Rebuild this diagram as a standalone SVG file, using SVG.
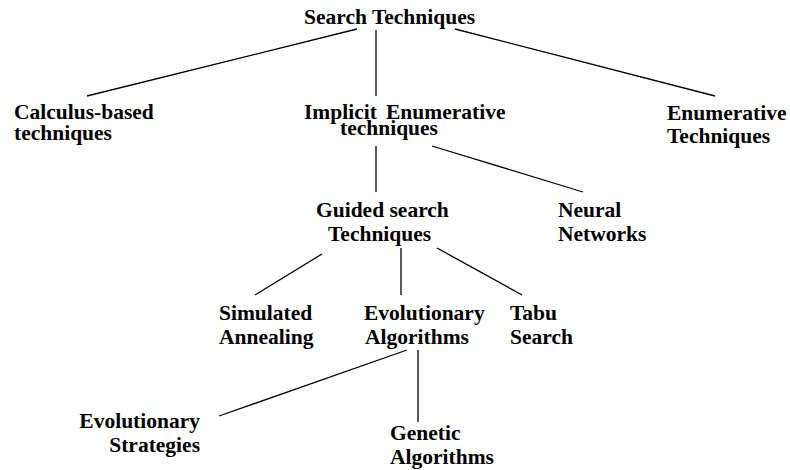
<svg xmlns="http://www.w3.org/2000/svg" width="790" height="470" viewBox="0 0 790 470">
  <style>
    text { font-family: "Liberation Serif", "Times New Roman", serif; font-weight: bold; font-size: 21.5px; fill: #000; }
    .edge { stroke: #000; stroke-width: 1.3; fill: none; }
  </style>
  <rect width="790" height="470" fill="#fff"/>

  <!-- tree edges -->
  <g id="edges">
    <line class="edge" x1="357" y1="29" x2="87" y2="96"/>
    <line class="edge" x1="376" y1="30" x2="376" y2="96"/>
    <line class="edge" x1="455" y1="29" x2="715" y2="96"/>
    <line class="edge" x1="376" y1="146" x2="376" y2="192"/>
    <line class="edge" x1="432" y1="146" x2="583" y2="192"/>
    <line class="edge" x1="322" y1="254" x2="255" y2="295"/>
    <line class="edge" x1="401" y1="248" x2="401" y2="295"/>
    <line class="edge" x1="437" y1="248" x2="522" y2="295"/>
    <line class="edge" x1="407" y1="350" x2="219" y2="416"/>
    <line class="edge" x1="418" y1="350" x2="418" y2="422"/>
  </g>

  <g id="search-techniques">
    <text x="304" y="24">Search Techniques</text>
  </g>
  <g id="calculus-based">
    <text x="14" y="119">Calculus-based</text>
    <text x="14" y="140">techniques</text>
  </g>
  <g id="implicit-enumerative">
    <text x="304" y="119">Implicit</text>
    <text x="386" y="119">Enumerative</text>
    <text x="340" y="135">techniques</text>
  </g>
  <g id="enumerative">
    <text x="667" y="120">Enumerative</text>
    <text x="667" y="143">Techniques</text>
  </g>
  <g id="guided-search">
    <text x="316" y="217">Guided search</text>
    <text x="328" y="241">Techniques</text>
  </g>
  <g id="neural-networks">
    <text x="558" y="217">Neural</text>
    <text x="558" y="241">Networks</text>
  </g>
  <g id="simulated-annealing">
    <text x="219" y="320">Simulated</text>
    <text x="219" y="344">Annealing</text>
  </g>
  <g id="evolutionary-algorithms">
    <text x="364" y="320">Evolutionary</text>
    <text x="365" y="344">Algorithms</text>
  </g>
  <g id="tabu-search">
    <text x="510" y="320">Tabu</text>
    <text x="510" y="344">Search</text>
  </g>
  <g id="evolutionary-strategies">
    <text x="200" y="428" text-anchor="end">Evolutionary</text>
    <text x="200" y="452" text-anchor="end">Strategies</text>
  </g>
  <g id="genetic-algorithms">
    <text x="390" y="440">Genetic</text>
    <text x="390" y="464">Algorithms</text>
  </g>
</svg>
